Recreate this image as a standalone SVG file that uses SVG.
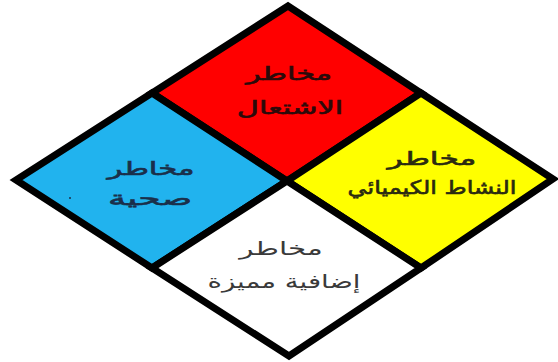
<svg xmlns="http://www.w3.org/2000/svg" width="558" height="362" viewBox="0 0 558 362">
<style>
.q{stroke:#000;stroke-width:7;stroke-linejoin:miter}
.t{font-family:"DejaVu Sans",sans-serif;font-size:19px;text-anchor:middle;direction:rtl}
.b{stroke-width:0.6}
</style>
<rect width="558" height="362" fill="#fff"/>
<g id="red"><polygon class="q" fill="#ff0000" points="288,6 421,93 287,181 152,93"/>
<text class="t b" fill="#2a0a0a" stroke="#2a0a0a" transform="translate(289,80) scale(1.6,1)">مخاطر</text>
<text class="t b" fill="#2a0a0a" stroke="#2a0a0a" transform="translate(290,114) scale(1.6,1)">الاشتعال</text></g>
<g id="blue"><polygon class="q" fill="#21b3ee" points="152,93 287,181 152,268 16,180"/>
<text class="t b" fill="#1a2f4a" stroke="#1a2f4a" transform="translate(151,175) scale(1.62,1)">مخاطر</text>
<text class="t b" fill="#1a2f4a" stroke="#1a2f4a" transform="translate(150,205) scale(1.9,1)">صحية</text>
<circle cx="70" cy="198" r="1" fill="#1a2f4a"/></g>
<g id="yellow"><polygon class="q" fill="#ffff00" points="421,93 553,179 421,268 287,181"/>
<text class="t b" fill="#2a2a10" stroke="#2a2a10" transform="translate(432,165) scale(1.65,1)">مخاطر</text>
<text class="t b" fill="#2a2a10" stroke="#2a2a10" transform="translate(432,194) scale(1.26,1)">النشاط الكيميائي</text></g>
<g id="white"><polygon class="q" fill="#ffffff" points="287,181 421,268 289,356 152,268"/>
<text class="t" fill="#3a3a3a" transform="translate(281,255) scale(1.55,1)">مخاطر</text>
<text class="t" fill="#3a3a3a" transform="translate(284,288) scale(1.45,1)">إضافية مميزة</text></g>
</svg>
